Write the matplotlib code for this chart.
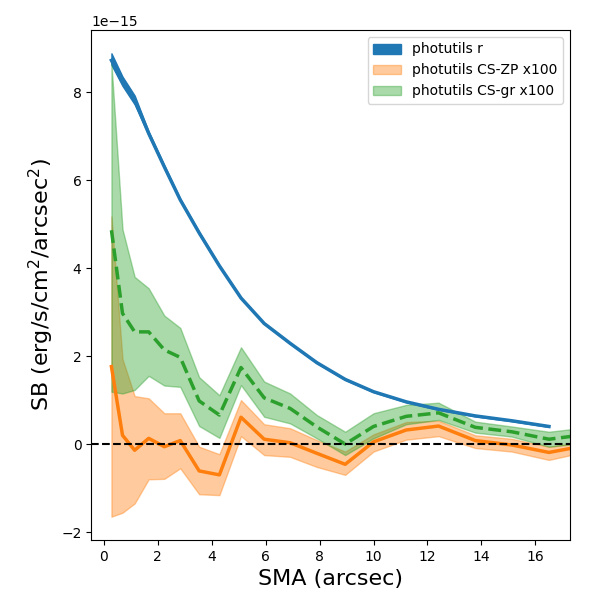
import numpy as np
import matplotlib
matplotlib.use('Agg')
import matplotlib.pyplot as plt

# semi-major axis (arcsec)
sma = [0.29, 0.70, 1.15, 1.67, 2.25, 2.84, 3.54, 4.29, 5.09, 5.95, 6.91, 7.90,
       8.95, 10.0, 11.21, 12.41, 13.77, 15.12, 16.5, 17.9]

# r band profile (units of 1e-15), one point fewer
r_sb = [8.72, 8.25, 7.82, 7.06, 6.30, 5.55, 4.80, 4.05, 3.32, 2.74, 2.29, 1.85,
        1.47, 1.19, 0.96, 0.79, 0.64, 0.53, 0.40]
r_hi = [8.88, 8.35, 7.92, 7.10, 6.33, 5.57, 4.82, 4.06, 3.33, 2.75, 2.30, 1.86,
        1.48, 1.20, 0.97, 0.80, 0.65, 0.54, 0.41]
r_lo = [8.62, 8.14, 7.72, 7.02, 6.27, 5.53, 4.78, 4.04, 3.31, 2.73, 2.28, 1.84,
        1.46, 1.18, 0.95, 0.78, 0.63, 0.52, 0.39]

# CS-ZP x100
zp_sb = [1.76, 0.20, -0.14, 0.13, -0.06, 0.08, -0.61, -0.70, 0.61, 0.11, 0.03, -0.21,
         -0.46, 0.05, 0.32, 0.41, 0.08, -0.02, -0.19, -0.03]
zp_hi = [5.17, 1.93, 1.09, 1.04, 0.70, 0.70, -0.06, -0.23, 1.00, 0.45, 0.36, 0.09,
         -0.17, 0.22, 0.50, 0.53, 0.20, 0.12, -0.06, 0.06]
zp_lo = [-1.65, -1.56, -1.35, -0.80, -0.79, -0.55, -1.14, -1.16, 0.18, -0.25, -0.29, -0.52,
         -0.70, -0.17, 0.10, 0.18, -0.09, -0.17, -0.36, -0.17]

# CS-gr x100
gr_sb = [4.86, 2.97, 2.55, 2.55, 2.14, 1.97, 0.98, 0.66, 1.74, 1.05, 0.81, 0.39,
         0.0, 0.40, 0.63, 0.71, 0.38, 0.28, 0.11, 0.22]
gr_hi = [8.65, 4.88, 3.80, 3.54, 2.92, 2.64, 1.52, 1.11, 2.20, 1.42, 1.15, 0.66,
         0.28, 0.70, 0.89, 0.94, 0.51, 0.40, 0.28, 0.38]
gr_lo = [1.19, 1.15, 1.23, 1.55, 1.33, 1.30, 0.41, 0.14, 1.34, 0.62, 0.47, 0.13,
         -0.25, 0.13, 0.45, 0.55, 0.26, 0.17, -0.06, 0.03]

scale = 1e-15
x = np.array(sma)
xr = x[:len(r_sb)]

fig = plt.figure(figsize=(6, 6), dpi=100)
ax = fig.add_axes([0.152, 0.1, 0.798, 0.85])

ax.fill_between(xr, np.array(r_lo) * scale, np.array(r_hi) * scale,
                color='C0', label='photutils r')
ax.plot(xr, np.array(r_sb) * scale, color='C0', lw=2.5)

ax.fill_between(x, np.array(zp_lo) * scale, np.array(zp_hi) * scale,
                color='C1', alpha=0.4, label='photutils CS-ZP x100')
ax.plot(x, np.array(zp_sb) * scale, color='C1', lw=2.5)

ax.fill_between(x, np.array(gr_lo) * scale, np.array(gr_hi) * scale,
                color='C2', alpha=0.4, label='photutils CS-gr x100')
ax.plot(x, np.array(gr_sb) * scale, color='C2', lw=2.5, ls='--')

ax.axhline(0, color='k', ls='--', lw=1.5)

ax.set_xlim(-0.46, 17.28)
ax.set_ylim(-2.18e-15, 9.41e-15)
ax.set_xlabel('SMA (arcsec)', fontsize=16)
ax.set_ylabel('SB (erg/s/cm$^2$/arcsec$^2$)', fontsize=16)
ax.legend(loc='upper right')

fig.savefig('out.png', dpi=100)
